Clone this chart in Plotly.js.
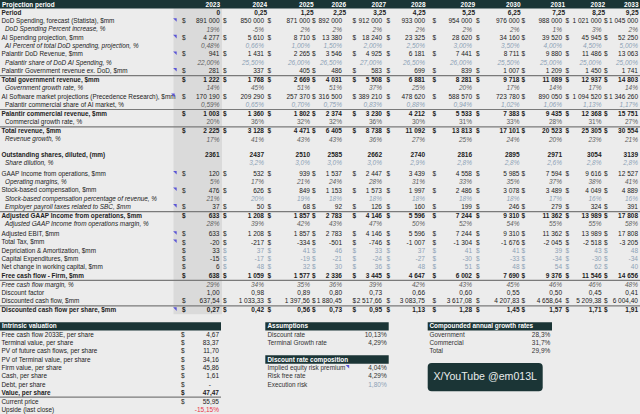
<!DOCTYPE html>
<html>
<head>
<meta charset="utf-8">
<script src="https://cdn.plot.ly/plotly-3.0.1.min.js"></script>
<style>
  html, body { margin: 0; padding: 0; background: #ececec; }
  #plot { width: 640px; height: 414px; }
</style>
</head>
<body>
<div id="plot"></div>
<script>
// ---- data ----
const years = [2023, 2024, 2025, 2026, 2027, 2028, 2029, 2030, 2031, 2032, 2033];
const period = [0, 0.25, 1.25, 2.25, 3.25, 4.25, 5.25, 6.25, 7.25, 8.25, 9.25];
const dodSpending = [891000, 850000, 871000, 892000, 912000, 933000, 954000, 976000, 988000, 1021000, 1045000];
const dodIncrease = [19, -5, 2, 2, 2, 2, 2, 2, 1, 3, 2];
const aiSpending = [4277, 5610, 8710, 13380, 18240, 23325, 28620, 34160, 39520, 45945, 52250];
const aiPct = [0.48, 0.66, 1.00, 1.50, 2.00, 2.50, 3.00, 3.50, 4.00, 4.50, 5.00];
const palDod = [941, 1431, 2265, 3546, 4925, 6181, 7441, 8711, 9880, 11486, 13063];
const palShare = [22.00, 25.50, 26.00, 26.50, 27.00, 26.50, 26.00, 25.50, 25.00, 25.00, 25.00];
const palGovEx = [281, 337, 405, 486, 583, 699, 839, 1007, 1209, 1450, 1741];
const totalGov = [1222, 1768, 2669, 4031, 5508, 6881, 8281, 9718, 11089, 12937, 14803];
const govGrowth = [14, 45, 51, 51, 37, 25, 20, 17, 14, 17, 14];
const aiSoftware = [170190, 209290, 257370, 316500, 389210, 478620, 588570, 723780, 890050, 1094520, 1346260];
const commShare = [0.59, 0.65, 0.70, 0.75, 0.83, 0.88, 0.94, 1.02, 1.06, 1.13, 1.17];
const commRev = [1003, 1360, 1802, 2374, 3230, 4212, 5533, 7383, 9435, 12368, 15751];
const commGrowth = [20, 36, 32, 32, 36, 30, 31, 33, 28, 31, 27];
const totalRev = [2225, 3128, 4471, 6405, 8738, 11092, 13813, 17101, 20523, 25305, 30554];
const revGrowth = [17, 41, 43, 43, 36, 27, 25, 24, 20, 23, 21];
const shares = [2361, 2437, 2510, 2585, 2662, 2740, 2816, 2895, 2971, 3054, 3139];
const dilution = [null, 3.2, 3.0, 3.0, 3.0, 2.9, 2.8, 2.8, 2.6, 2.8, 2.8];
const gaap = [120, 532, 939, 1537, 2447, 3439, 4558, 5985, 7594, 9616, 12527];
const opMargin = [5, 17, 21, 24, 28, 31, 33, 35, 37, 38, 41];
const sbc = [476, 626, 849, 1153, 1573, 1997, 2486, 3078, 3489, 4049, 4889];
const sbcPct = [21, 20, 19, 18, 18, 18, 18, 18, 17, 16, 16];
const payroll = [37, 50, 68, 92, 126, 160, 199, 246, 279, 324, 391];
const adjGaap = [633, 1208, 1857, 2783, 4146, 5596, 7244, 9310, 11362, 13989, 17808];
const adjMargin = [28, 39, 42, 43, 47, 50, 52, 54, 55, 55, 58];
const adjEbit = [633, 1208, 1857, 2783, 4146, 5596, 7244, 9310, 11362, 13989, 17808];
const tax = [-20, -217, -334, -501, -746, -1007, -1304, -1676, -2045, -2518, -3205];
const da = [33, 37, 41, 46, 33, 37, 41, 41, 39, 43, 48];
const capex = [-15, -17, -19, -21, -24, -27, -30, -33, -34, -30, -34];
const nwc = [6, 48, 32, 30, 36, 48, 51, 48, 54, 62, 40];
const fcf = [638, 1059, 1577, 2336, 3445, 4647, 6002, 7690, 9376, 11546, 14656];
const fcfMargin = [29, 34, 35, 36, 39, 42, 43, 45, 46, 46, 48];
const discountFactor = [1.00, 0.98, 0.89, 0.80, 0.73, 0.66, 0.60, 0.55, 0.50, 0.45, 0.41];
const dcf = [637.54, 1033.33, 1397.56, 1880.45, 2517.66, 3083.75, 3617.08, 4207.83, 4658.64, 5209.38, 6004.40];
const dcfPerShare = [0.27, 0.42, 0.56, 0.73, 0.95, 1.13, 1.28, 1.45, 1.57, 1.71, 1.91];

const intrinsicLabels = ['Free cash flow 2033E, per share', 'Terminal value, per share', 'PV of future cash flows, per share',
  'PV of Terminal value, per share', 'Firm value, per share', 'Cash, per share', 'Debt, per share', 'Value, per share'];
const intrinsicValues = [4.67, 83.37, 11.70, 34.16, 45.86, 1.61, null, 47.47];
const currentPrice = 55.95;
const upside = -15.15;

const assumptionLabels = ['Discount rate', 'Terminal Growth rate'];
const assumptionValues = [10.13, 4.29];
const compositionLabels = ['Implied equity risk premium', 'Risk free rate', 'Execution risk'];
const compositionValues = [4.04, 4.29, 1.80];
const cagrLabels = ['Government', 'Commercial', 'Total'];
const cagrValues = [28.3, 31.7, 29.9];

// rows of the projection table: label, series, number format, look
const rows = [
  ['Period', period, 'period', 'B'],
  ['DoD Spending, forecast (Statista), $mm', dodSpending, 'usd0', 'N'],
  ['DoD Spending Percent increase, %', dodIncrease, 'pct0', 'IG'],
  ['AI Spending projection, $mm', aiSpending, 'usd0', 'N'],
  ['AI Percent of total DoD spending, projection, %', aiPct, 'pct2', 'IB'],
  ['Palantir DoD Revenue, $mm', palDod, 'usd0', 'N'],
  ['Palantir share of DoD AI Spending, %', palShare, 'pct2', 'IB'],
  ['Palantir Government revenue ex. DoD, $mm', palGovEx, 'usd0', 'N'],
  ['Total government revenue, $mm', totalGov, 'usd0', 'B'],
  ['Government growth rate, %', govGrowth, 'pct0', 'IG'],
  ['AI Software market projections (Precedence Research), $mm', aiSoftware, 'usd0', 'N'],
  ['Palantir commercial share of AI market, %', commShare, 'pct2', 'NB'],
  ['Palantir commercial revenue, $mm', commRev, 'usd0', 'B'],
  ['Commercial growth rate, %', commGrowth, 'pct0', 'NG'],
  ['Total revenue, $mm', totalRev, 'usd0', 'B'],
  ['Revenue growth, %', revGrowth, 'pct0', 'IG'],
  ['Outstanding shares, diluted, (mm)', shares, 'int', 'B'],
  ['Share dilution, %', dilution, 'pct1', 'IB'],
  ['GAAP Income from operations, $mm', gaap, 'usd0', 'N'],
  ['Operating margins, %', opMargin, 'pct0', 'IG'],
  ['Stock-based compensation, $mm', sbc, 'usd0', 'N'],
  ['Stock-based compensation percentage of revenue, %', sbcPct, 'pct0', 'IB'],
  ['Employer payroll taxes related to SBC, $mm', payroll, 'usd0', 'IN'],
  ['Adjusted GAAP Income from operations, $mm', adjGaap, 'usd0', 'B'],
  ['Adjusted GAAP Income from operations margin, %', adjMargin, 'pct0', 'IG'],
  ['Adjusted EBIT, $mm', adjEbit, 'usd0', 'N'],
  ['Total Tax, $mm', tax, 'usd0', 'N'],
  ['Depriciation &amp; Amortization, $mm', da, 'usd0', 'LB'],
  ['Capital Expenditures, $mm', capex, 'usd0', 'LB'],
  ['Net change in working capital, $mm', nwc, 'usd0', 'LB'],
  ['Free cash flow - Firm, $mm', fcf, 'usd0', 'B'],
  ['Free cash flow margin, %', fcfMargin, 'pct0', 'JG'],
  ['Discount factor', discountFactor, 'dec2', 'N'],
  ['Discounted cash flow, $mm', dcf, 'usd2', 'N'],
  ['Discounted cash flow per share, $mm', dcfPerShare, 'usd2', 'B']
];
const flagged = [1, 3, 5, 7, 10, 18, 20, 22, 25, 26, 34];

// ---- sheet geometry (px) ----
const W = 640, H = 414, P = 8.3;
const valRight = [219.5, 264, 310, 342, 382, 425, 472, 519.5, 562, 601.5, 638];
const dollarX = [182, 223, 267.5, 312, 352.5, 386.5, 432.5, 476, 521.5, 565.5, 604];
const periodRight = [220, 267, 313.5, 346, 386, 425.5, 475, 520.5, 565, 605, 638.5];
const gapBefore = {16: 7, 18: 2.5, 25: 1.5};
const ruleAbove = [8, 12, 14, 23, 31, 34];

const FONT = 'Liberation Sans, Arial, sans-serif';
const FS = 6.5, FSL = 6.4;
const C = {dark: '#222222', grey: '#5e5e5e', blue: '#8da2b6', white: '#ffffff', red: '#e8384a',
           band: '#1b3536', shade: '#dadada', rule: '#7a7a7a', flag: '#5a55d6'};
const LOOKS = {
  B:  {lw: 'bold', ls: 'normal', ind: 0, vw: 'bold', vs: 'normal', vc: C.dark, vc0: C.dark},
  N:  {lw: 'normal', ls: 'normal', ind: 0, vw: 'normal', vs: 'normal', vc: C.dark, vc0: C.dark},
  IG: {lw: 'normal', ls: 'italic', ind: 1, vw: 'normal', vs: 'italic', vc: C.grey, vc0: C.grey},
  IB: {lw: 'normal', ls: 'italic', ind: 1, vw: 'normal', vs: 'italic', vc: C.blue, vc0: C.grey},
  NB: {lw: 'normal', ls: 'normal', ind: 1, vw: 'normal', vs: 'italic', vc: C.blue, vc0: C.grey},
  NG: {lw: 'normal', ls: 'normal', ind: 1, vw: 'normal', vs: 'normal', vc: C.grey, vc0: C.grey},
  IN: {lw: 'normal', ls: 'italic', ind: 1, vw: 'normal', vs: 'normal', vc: C.dark, vc0: C.dark},
  LB: {lw: 'normal', ls: 'normal', ind: 0, vw: 'normal', vs: 'normal', vc: C.blue, vc0: C.dark},
  JG: {lw: 'normal', ls: 'italic', ind: 0, vw: 'normal', vs: 'italic', vc: C.grey, vc0: C.grey}
};

function num(v, dec, sep) {
  const s = Math.abs(v).toFixed(dec).split('.');
  const i = sep ? s[0].replace(/\B(?=(\d{3})+(?!\d))/g, '\u00a0') : s[0];
  return (v < 0 ? '-' : '') + i + (s[1] ? ',' + s[1] : '');
}
function fmt(v, kind) {
  if (v === null || v === undefined) return '';
  switch (kind) {
    case 'period': return v === 0 ? '0' : num(v, 2, true);
    case 'usd0': return num(v, 0, true);
    case 'usd2': return num(v, 2, true);
    case 'int': return num(v, 0, false);
    case 'pct0': return num(v, 0) + '%';
    case 'pct1': return num(v, 1) + '%';
    case 'pct2': return num(v, 2) + '%';
    case 'dec2': return num(v, 2);
  }
}

// text items, later grouped into scatter traces by style
const items = [];
function put(x, y, t, anchor, o) {
  o = o || {};
  items.push({x: x, y: y + 0.6, t: t, a: anchor, w: o.w || 'normal', s: o.s || 'normal',
              c: o.c || C.dark, fs: o.fs || FS});
}

const shapes = [];
function rect(x0, x1, y0, y1, color) {
  shapes.push({type: 'rect', xref: 'x', yref: 'y', x0: x0, x1: x1, y0: y0, y1: y1,
               fillcolor: color, line: {width: 0}, layer: 'below'});
}
function rule(x0, x1, y) {
  shapes.push({type: 'line', xref: 'x', yref: 'y', x0: x0, x1: x1, y0: y, y1: y,
               line: {color: C.rule, width: 1.2}});
}

// row positions
const rowY = [];
let y = 12.7;
rows.forEach((r, i) => {
  if (i > 0) y += P + (gapBefore[i] || 0) + (ruleAbove.includes(i) ? 0.7 : 0);
  rowY.push(y);
});

// header band + 2023 shading
rect(173.5, 222, 8.6, rowY[rowY.length - 1] + P / 2, C.shade);
rect(0, W, 0, 8.6, C.band);
put(2, 4.3, 'Projection period', 'l', {w: 'bold', c: C.white, fs: FSL});
years.forEach((yr, j) => put(periodRight[j], 4.3, String(yr), 'r', {w: 'bold', c: C.white}));

rows.forEach((r, i) => {
  const [label, vals, kind, lookKey] = r;
  const lk = LOOKS[lookKey];
  put(lk.ind ? 5 : 1.5, rowY[i], label, 'l', {w: lk.lw, s: lk.ls, fs: FSL});
  vals.forEach((v, j) => {
    const c = j === 0 ? lk.vc0 : lk.vc;
    const xr = kind === 'period' ? periodRight[j] : valRight[j];
    put(xr, rowY[i], fmt(v, kind), 'r', {w: lk.vw, s: lk.vs, c: c});
    if (kind.startsWith('usd') && v !== null) put(dollarX[j], rowY[i], '$', 'l', {w: lk.vw, c: c});
  });
});
ruleAbove.forEach(i => rule(0, W, (rowY[i - 1] + rowY[i]) / 2 + 0.3));

// intrinsic valuation block
const yI = 326.3;
rect(0, 221, yI - P / 2, yI + P / 2, C.band);
put(2, yI, 'Intrinsic valuation', 'l', {w: 'bold', c: C.white, fs: FSL});
intrinsicLabels.forEach((lab, k) => {
  const yy = yI + P * (k + 1);
  const bold = k === intrinsicLabels.length - 1 ? 'bold' : 'normal';
  put(1.5, yy, lab, 'l', {w: bold, fs: FSL});
  put(181, yy, '$', 'l', {w: bold});
  const v = intrinsicValues[k];
  put(v === null ? 211 : 219, yy, v === null ? '-' : num(v, 2, true), 'r', {w: bold});
});
const yVal = yI + P * intrinsicLabels.length;
rule(0, 221, yVal + P / 2 + 0.2);
put(1.5, yVal + P + 0.4, 'Current price', 'l', {fs: FSL});
put(181, yVal + P + 0.4, '$', 'l');
put(219, yVal + P + 0.4, num(currentPrice, 2, true), 'r');
put(1.5, yVal + 2 * P + 0.4, 'Upside (last close)', 'l', {fs: FSL});
put(219, yVal + 2 * P + 0.4, num(upside, 2) + '%', 'r', {c: C.red});

// assumptions + discount rate composition
rect(265.3, 388.7, yI - P / 2, yI + P / 2, C.band);
put(267.5, yI, 'Assumptions', 'l', {w: 'bold', c: C.white, fs: FSL});
assumptionLabels.forEach((lab, k) => {
  put(267.5, yI + P * (k + 1), lab, 'l', {c: '#333333', fs: FSL});
  put(386.7, yI + P * (k + 1), num(assumptionValues[k], 2) + '%', 'r', {c: '#333333'});
});
const yD = yI + P * 4;
rect(265.3, 388.7, yD - P / 2, yD + P / 2, C.band);
put(267.5, yD, 'Discount rate composition', 'l', {w: 'bold', c: C.white, fs: FSL});
compositionLabels.forEach((lab, k) => {
  const c = k === 2 ? C.blue : '#333333';
  put(267.5, yD + P * (k + 1), lab, 'l', {c: '#333333', fs: FSL});
  put(386.7, yD + P * (k + 1), num(compositionValues[k], 2) + '%', 'r', {c: c});
});

// CAGR block
rect(427.7, 552, yI - P / 2, yI + P / 2, C.band);
put(429.5, yI, 'Compounded annual growth rates', 'l', {w: 'bold', c: C.white, fs: FSL});
cagrLabels.forEach((lab, k) => {
  put(429.5, yI + P * (k + 1), lab, 'l', {c: '#333333', fs: FSL});
  put(550.3, yI + P * (k + 1), num(cagrValues[k], 1) + '%', 'r', {c: '#333333'});
});

// handle box
const bx0 = 427.7, bx1 = 542.7, by0 = 363, by1 = 391.3, rr = 4;
shapes.push({type: 'path', xref: 'x', yref: 'y', fillcolor: C.band, line: {width: 0}, layer: 'below',
  path: `M${bx0 + rr},${by0} L${bx1 - rr},${by0} Q${bx1},${by0} ${bx1},${by0 + rr} L${bx1},${by1 - rr} ` +
        `Q${bx1},${by1} ${bx1 - rr},${by1} L${bx0 + rr},${by1} Q${bx0},${by1} ${bx0},${by1 - rr} ` +
        `L${bx0},${by0 + rr} Q${bx0},${by0} ${bx0 + rr},${by0} Z`});
put((bx0 + bx1) / 2, (by0 + by1) / 2 - 0.3, 'X/YouTube @em013L', 'c', {c: '#e9ecec', fs: 10.6});

// group text into traces
const groups = {};
items.forEach(it => {
  const key = [it.a, it.w, it.s, it.c, it.fs].join('|');
  (groups[key] = groups[key] || []).push(it);
});
const posOf = {l: 'middle right', r: 'middle left', c: 'middle center'};
const traces = Object.values(groups).map(g => ({
  type: 'scatter', mode: 'text', x: g.map(d => d.x), y: g.map(d => d.y), text: g.map(d => d.t),
  textposition: posOf[g[0].a], cliponaxis: false, hoverinfo: 'skip',
  textfont: {family: FONT, size: g[0].fs, color: g[0].c, weight: g[0].w, style: g[0].s}
}));

// comment flags
const flagX = flagged.map(i => i === 10 ? 173.5 : 175.5);
const flagY = flagged.map(i => rowY[i] - 1.6);
flagX.push(348); flagY.push(yD + P - 1.6);
traces.push({type: 'scatter', mode: 'markers', x: flagX, y: flagY, hoverinfo: 'skip', cliponaxis: false,
  marker: {symbol: 'triangle-ne', size: 4, color: C.flag, line: {width: 0}}});

const layout = {
  width: W, height: H,
  margin: {l: 0, r: 0, t: 0, b: 0, pad: 0},
  paper_bgcolor: '#ececec', plot_bgcolor: 'rgba(0,0,0,0)',
  showlegend: false, hovermode: false,
  xaxis: {range: [0, W], visible: false, fixedrange: true},
  yaxis: {range: [H, 0], visible: false, fixedrange: true},
  shapes: shapes
};

Plotly.newPlot('plot', traces, layout, {staticPlot: true, displayModeBar: false});
</script>
</body>
</html>
